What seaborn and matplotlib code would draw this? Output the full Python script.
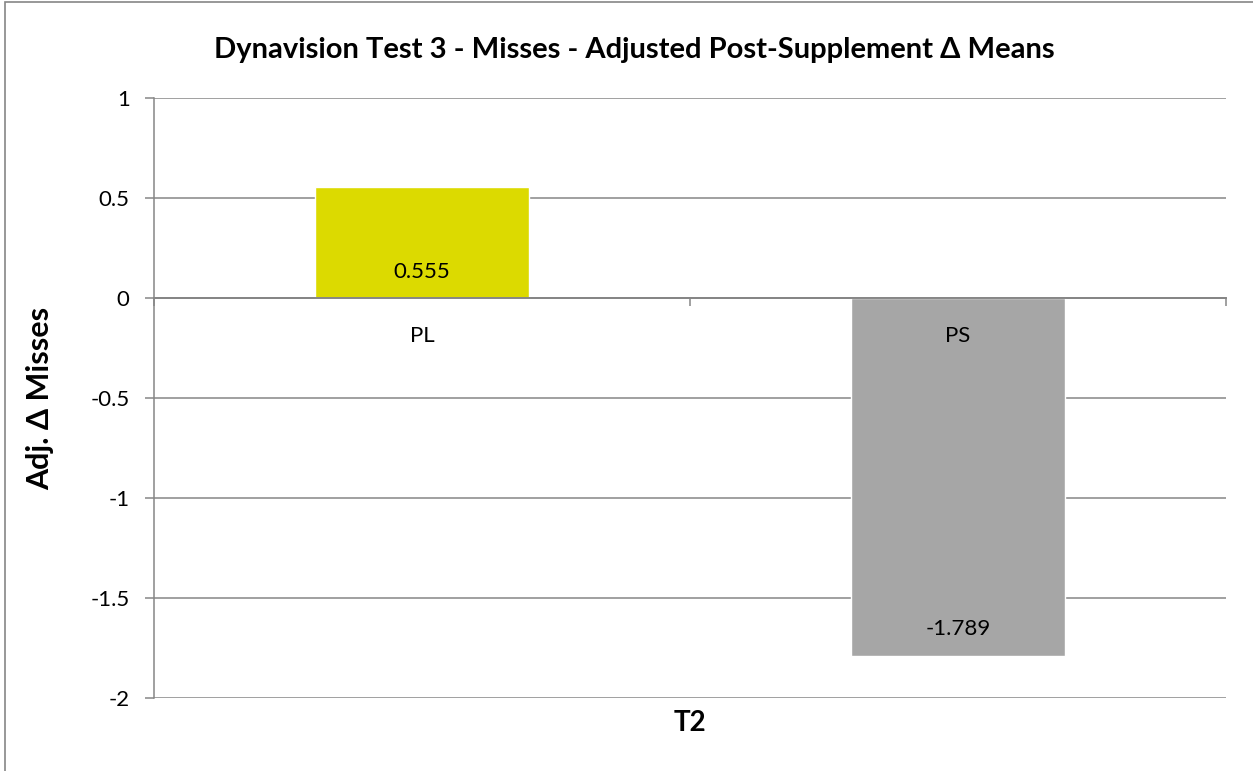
import matplotlib
matplotlib.use("Agg")
import matplotlib.pyplot as plt
import seaborn as sns
import pandas as pd
from matplotlib.patches import Rectangle

# values
groups = ["PL", "PS"]
adj_means = [0.555, -1.789]
bar_colors = ["#DCDA00", "#A6A6A6"]
y_ticks = [1, 0.5, 0, -0.5, -1, -1.5, -2]
y_tick_labels = ["1", "0.5", "0", "-0.5", "-1", "-1.5", "-2"]

sns.set_theme(style="white")
plt.rcParams["font.family"] = ["Lato", "DejaVu Sans"]
plt.rcParams["axes.unicode_minus"] = False
plt.rcParams["text.color"] = "black"

grey = "#868686"
W, H = 1253, 771

df = pd.DataFrame({"group": groups, "mean": adj_means})

fig = plt.figure(figsize=(W / 100, H / 100), dpi=100)
# chart-area frame (only left/top edges visible in the original)
fig.patches.append(Rectangle((5 / W, -0.1), 1.2, 1.1 - 1.5 / H, transform=fig.transFigure,
                             fill=False, edgecolor=grey, lw=1.2))

ax = fig.add_axes([154 / W, 1 - 698 / H, 1072 / W, 600 / H])
sns.barplot(data=df, x="group", y="mean", hue="group", palette=bar_colors,
            width=0.4, saturation=1, legend=False, ax=ax)

ax.set_xlim(-0.5, 1.5)
ax.set_ylim(-2, 1)
ax.set_axisbelow(True)
ax.yaxis.grid(True, color=grey, lw=1.1)
ax.xaxis.grid(False)

for s in ["top", "right"]:
    ax.spines[s].set_visible(False)
ax.spines["left"].set_color(grey)
ax.spines["left"].set_linewidth(1.1)
ax.spines["bottom"].set_position(("data", 0))
ax.spines["bottom"].set_color(grey)
ax.spines["bottom"].set_linewidth(1.4)
ax.spines["bottom"].set_zorder(5)

ax.set_yticks(y_ticks)
ax.set_yticklabels(y_tick_labels, fontsize=16)
ax.tick_params(axis="y", left=True, length=6.5, width=1.1, color=grey, pad=11, labelcolor="black")

# tick marks on the zero axis between the categories
ax.set_xticks([-0.5, 0.5, 1.5])
ax.set_xticklabels([])
ax.tick_params(axis="x", which="major", bottom=True, length=5.5, width=1.1, color=grey)
ax.set_xlabel("")
ax.set_ylabel("")

for i, (bar, v) in enumerate(zip(ax.patches, adj_means)):
    cx = bar.get_x() + bar.get_width() / 2
    # value label inside the bar, near its lower end
    ax.annotate(f"{v:.3f}", xy=(cx, min(0, v)), xytext=(0, 19), textcoords="offset points",
                ha="center", va="center", fontsize=16, color="black", zorder=6)
    # category label just below the zero line (drawn over the bar)
    ax.annotate(groups[i], xy=(i, 0), xytext=(0, -27), textcoords="offset points",
                ha="center", va="center", fontsize=16, color="black", zorder=6)

fig.text(634 / W, 1 - 50 / H, "Dynavision Test 3 - Misses - Adjusted Post-Supplement Δ Means",
         ha="center", va="center", fontsize=21, fontweight="bold", color="black")
fig.text(690 / W, 1 - 723 / H, "T2", ha="center", va="center", fontsize=20,
         fontweight="bold", color="black")
fig.text(40 / W, 1 - 398 / H, "Adj. Δ Misses", ha="center", va="center", rotation=90,
         fontsize=22, fontweight="bold", color="black")

fig.savefig("out.png", dpi=100)
